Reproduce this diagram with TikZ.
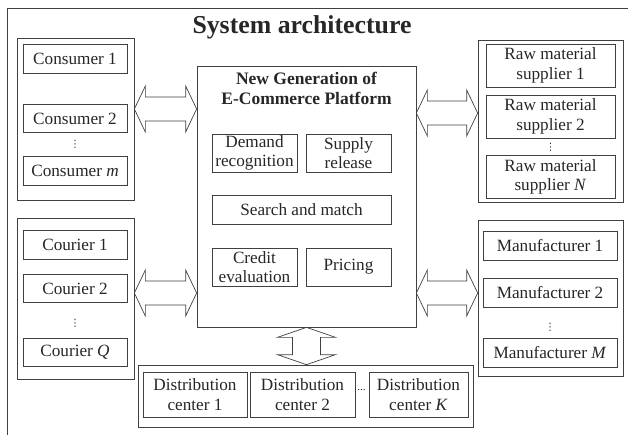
\documentclass[tikz,border=0pt]{standalone}
\usepackage{fontspec}
\setmainfont{Liberation Serif}
\newfontfamily\symfont{DejaVu Sans}
\usetikzlibrary{calc}

% hollow double arrows (from, to, node that gives the height)
\newcommand{\harrow}[3]{%
  \draw[hollow] let \p1=(#1), \p2=(#2), \p3=(#3) in
    (\x1,\y3) -- (\x1+11pt,\y3+23pt) -- (\x1+11pt,\y3+12pt) -- (\x2-11pt,\y3+12pt)
    -- (\x2-11pt,\y3+23pt) -- (\x2,\y3) -- (\x2-11pt,\y3-23pt) -- (\x2-11pt,\y3-12pt)
    -- (\x1+11pt,\y3-12pt) -- (\x1+11pt,\y3-23pt) -- cycle;}
\newcommand{\varrow}[2]{%
  \draw[hollow] let \p1=(#1), \p2=(#2) in
    (\x1,\y1) -- (\x1+29pt,\y1-10pt) -- (\x1+14pt,\y1-10pt) -- (\x1+14pt,\y2+10pt)
    -- (\x1+29pt,\y2+10pt) -- (\x1,\y2) -- (\x1-29pt,\y2+10pt) -- (\x1-14pt,\y2+10pt)
    -- (\x1-14pt,\y1-10pt) -- (\x1-29pt,\y1-10pt) -- cycle;}

\begin{document}
\begin{tikzpicture}[x=1pt, y=-1pt,
    every node/.style={font=\fontsize{17.2pt}{19.5pt}\selectfont, text=black!85, inner sep=0pt},
    box/.style={draw=black!75, line width=0.7pt, align=center},
    hollow/.style={draw=black!75, line width=0.7pt},
    ellip/.style={font=\symfont\fontsize{10pt}{10pt}\selectfont}]
  \useasboundingbox (0,0) rectangle (628,434);
  \clip (0,0) rectangle (628,434);
  \draw[hollow] (7,440) -- (7,8) -- (640,8);
  \node[font=\fontsize{25.8pt}{28pt}\selectfont\bfseries, anchor=base] (title) at (302,33) {System architecture};

  % consumers
  \node[box, minimum width=117, minimum height=162] (cons) at (75.5,119) {};
  \node[box, minimum width=104, minimum height=28.5] (cons1) at (75,59) {Consumer 1};
  \node[box, minimum width=104, minimum height=28.5] (cons2) at (75,118.5) {Consumer 2};
  \node[ellip] (consdots) at (75,144) {⋮};
  \node[box, minimum width=104, minimum height=28.5] (consm) at (75,171) {Consumer \textit{m}};

  % couriers
  \node[box, minimum width=117, minimum height=161] (cour) at (75.5,298.5) {};
  \node[box, minimum width=104, minimum height=28.5] (cour1) at (75,245) {Courier 1};
  \node[box, minimum width=104, minimum height=28.5] (cour2) at (75,288.5) {Courier 2};
  \node[ellip] (courdots) at (75,323) {⋮};
  \node[box, minimum width=104, minimum height=28.5] (courq) at (75,352.5) {Courier \textit{Q}};

  % platform
  \node[box, minimum width=219, minimum height=261] (plat) at (306.5,196.5) {};
  \node[font=\fontsize{17.5pt}{20pt}\selectfont\bfseries, align=center] (plattitle) at (306.5,88) {New Generation of\\E-Commerce Platform};
  \node[box, minimum width=85, minimum height=38] (demand) at (254.5,153) {Demand\\recognition};
  \node[box, minimum width=85, minimum height=38] (supply) at (348.5,153) {Supply\\release};
  \node[box, minimum width=179, minimum height=29] (search) at (301.5,209.5) {Search and match};
  \node[box, minimum width=85, minimum height=38] (credit) at (254.5,267) {Credit\\evaluation};
  \node[box, minimum width=85, minimum height=38] (pricing) at (348.5,267) {Pricing};

  % raw material suppliers
  \node[box, minimum width=145, minimum height=162] (rms) at (550.5,121) {};
  \node[box, minimum width=129, minimum height=43] (rms1) at (550.5,65.5) {Raw material\\supplier 1};
  \node[box, minimum width=129, minimum height=43] (rms2) at (550.5,116.5) {Raw material\\supplier 2};
  \node[ellip] (rmsdots) at (550.5,147.5) {⋮};
  \node[box, minimum width=129, minimum height=43] (rmsn) at (550.5,177) {Raw material\\supplier \textit{N}};

  % manufacturers
  \node[box, minimum width=145, minimum height=156] (manu) at (550.5,298) {};
  \node[box, minimum width=134, minimum height=29] (manu1) at (550,245.5) {Manufacturer 1};
  \node[box, minimum width=134, minimum height=29] (manu2) at (550,292.5) {Manufacturer 2};
  \node[ellip] (manudots) at (550,327) {⋮};
  \node[box, minimum width=134, minimum height=29] (manum) at (550,352.5) {Manufacturer \textit{M}};

  % distribution centers
  \node[box, minimum width=335, minimum height=62] (dist) at (305.5,396) {};
  \node[box, minimum width=104, minimum height=45] (dist1) at (195,394.5) {Distribution\\center 1};
  \node[box, minimum width=105, minimum height=45] (dist2) at (302.5,394.5) {Distribution\\center 2};
  \node[font=\fontsize{11pt}{11pt}\selectfont, anchor=base] (distdots) at (361.5,390) {...};
  \node[box, minimum width=99, minimum height=45] (distk) at (418.5,394.5) {Distribution\\center \textit{K}};

  \harrow{cons.east}{plat.west}{[yshift=10pt]cons.east}
  \harrow{cour.east}{plat.west}{[yshift=5.5pt]cour.east}
  \harrow{plat.east}{rms.west}{[yshift=8pt]rms.west}
  \harrow{plat.east}{manu.west}{[yshift=5pt]manu.west}
  \varrow{plat.south}{dist.north}
\end{tikzpicture}
\end{document}
